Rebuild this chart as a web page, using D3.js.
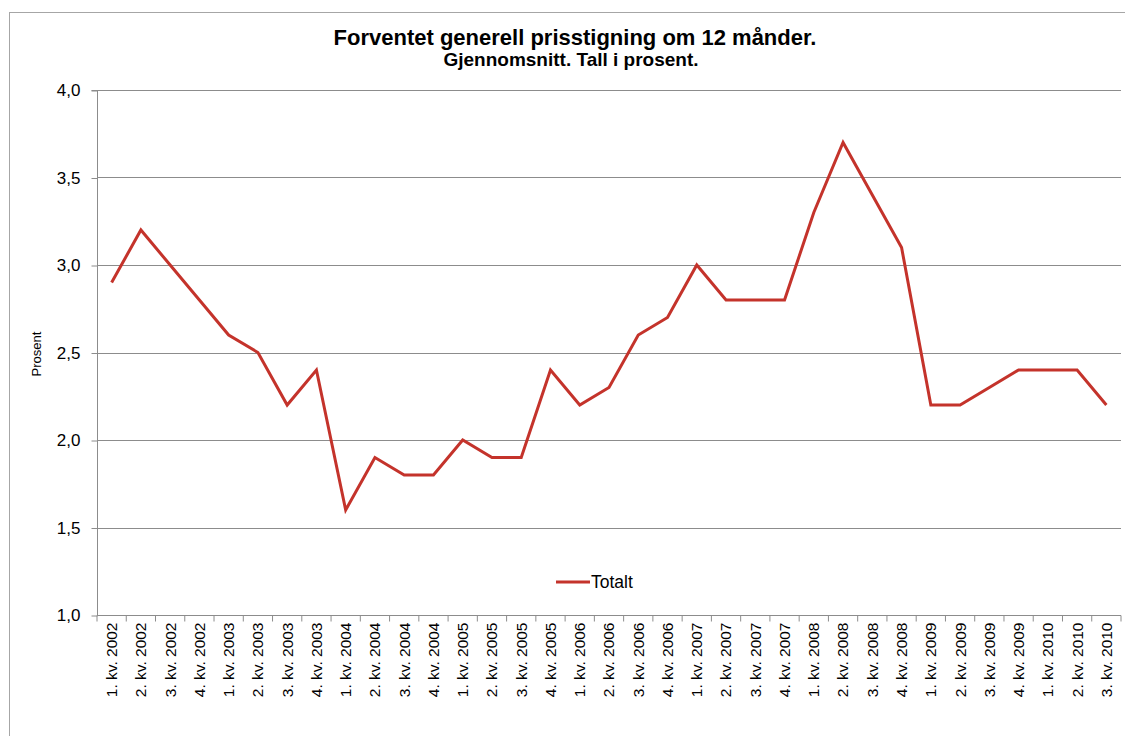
<!DOCTYPE html>
<html>
<head>
<meta charset="utf-8">
<script src="https://cdn.jsdelivr.net/npm/d3@7/dist/d3.min.js"></script>
<style>
  html, body { margin: 0; padding: 0; background: #fff; }
  svg { display: block; }
</style>
</head>
<body>
<svg id="chart" width="1125" height="736"></svg>
<script>
const categories = [
  "1. kv. 2002","2. kv. 2002","3. kv. 2002","4. kv. 2002",
  "1. kv. 2003","2. kv. 2003","3. kv. 2003","4. kv. 2003",
  "1. kv. 2004","2. kv. 2004","3. kv. 2004","4. kv. 2004",
  "1. kv. 2005","2. kv. 2005","3. kv. 2005","4. kv. 2005",
  "1. kv. 2006","2. kv. 2006","3. kv. 2006","4. kv. 2006",
  "1. kv. 2007","2. kv. 2007","3. kv. 2007","4. kv. 2007",
  "1. kv. 2008","2. kv. 2008","3. kv. 2008","4. kv. 2008",
  "1. kv. 2009","2. kv. 2009","3. kv. 2009","4. kv. 2009",
  "1. kv. 2010","2. kv. 2010","3. kv. 2010"
];
const totalt = [
  2.9, 3.2, 3.0, 2.8,
  2.6, 2.5, 2.2, 2.4,
  1.6, 1.9, 1.8, 1.8,
  2.0, 1.9, 1.9, 2.4,
  2.2, 2.3, 2.6, 2.7,
  3.0, 2.8, 2.8, 2.8,
  3.3, 3.7, 3.4, 3.1,
  2.2, 2.2, 2.3, 2.4,
  2.4, 2.4, 2.2
];
const yTicks = [1.0, 1.5, 2.0, 2.5, 3.0, 3.5, 4.0];
const seriesName = "Totalt";
const titleText = "Forventet generell prisstigning om 12 månder.";
const subtitleText = "Gjennomsnitt. Tall i prosent.";
const yAxisLabel = "Prosent";

const svg = d3.select("#chart");
const font = "Arial, 'Liberation Sans', sans-serif";
const lineColor = "#c4332b";
const gridColor = "#8c8c8c";

// outer chart border
svg.append("rect")
  .attr("x", 9.5).attr("y", 12.5)
  .attr("width", 1125).attr("height", 740)
  .attr("fill", "none").attr("stroke", "#a6a6a6").attr("stroke-width", 1);

const mLeft = 97, mRight = 1121, mTop = 90, mBottom = 615;

const x = d3.scaleBand().domain(categories).range([mLeft, mRight]);
const y = d3.scaleLinear().domain([1, 4]).range([mBottom, mTop]);

// gridlines
svg.append("g").selectAll("line").data(yTicks.filter(d => d > 1)).join("line")
  .attr("x1", mLeft).attr("x2", mRight)
  .attr("y1", d => Math.round(y(d)) + 0.5).attr("y2", d => Math.round(y(d)) + 0.5)
  .attr("stroke", gridColor).attr("stroke-width", 1);

// y axis
const yAxis = d3.axisLeft(y).tickValues(yTicks)
  .tickFormat(d => d3.format(".1f")(d).replace(".", ","))
  .tickSize(6).tickPadding(11);
const gy = svg.append("g").attr("transform", `translate(${mLeft + 0.5},0.5)`).call(yAxis);
gy.select(".domain").attr("stroke", gridColor).attr("d", `M-6,${mTop}H0V${mBottom}`);
gy.selectAll(".tick line").attr("stroke", gridColor);
gy.selectAll(".tick text").attr("font-family", font).attr("font-size", 17).attr("fill", "#000");

// x axis
const xAxis = d3.axisBottom(x).tickSize(6).tickPadding(8);
const gx = svg.append("g").attr("transform", `translate(0,${mBottom + 0.5})`).call(xAxis);
gx.select(".domain").attr("stroke", gridColor).attr("d", `M${mLeft},0H${mRight}V6`);
gx.selectAll(".tick line").attr("stroke", gridColor)
  .attr("transform", `translate(${-x.bandwidth()/2},0)`);
gx.selectAll(".tick text")
  .attr("font-family", font).attr("font-size", 15.5).attr("fill", "#000")
  .attr("transform", "rotate(-90)")
  .attr("text-anchor", "end")
  .attr("x", -7).attr("y", 0).attr("dy", "0.35em");

// line
const line = d3.line()
  .x((d, i) => x(categories[i]) + x.bandwidth() / 2)
  .y(d => y(d));
svg.append("path").datum(totalt)
  .attr("d", line)
  .attr("fill", "none").attr("stroke", lineColor)
  .attr("stroke-width", 3).attr("stroke-linejoin", "miter");

// titles
svg.append("text").attr("x", 575).attr("y", 45)
  .attr("text-anchor", "middle").attr("font-family", font)
  .attr("font-size", 22).attr("font-weight", "bold").text(titleText);
svg.append("text").attr("x", 571).attr("y", 66)
  .attr("text-anchor", "middle").attr("font-family", font)
  .attr("font-size", 19).attr("font-weight", "bold").text(subtitleText);

// y label
svg.append("text").attr("transform", "translate(41,354) rotate(-90)")
  .attr("text-anchor", "middle").attr("font-family", font)
  .attr("font-size", 13).text(yAxisLabel);

// legend
const lg = svg.append("g");
lg.append("line").attr("x1", 556).attr("x2", 590).attr("y1", 582).attr("y2", 582)
  .attr("stroke", lineColor).attr("stroke-width", 3);
lg.append("text").attr("x", 591).attr("y", 588)
  .attr("font-family", font).attr("font-size", 17.5).text(seriesName);
</script>
</body>
</html>
